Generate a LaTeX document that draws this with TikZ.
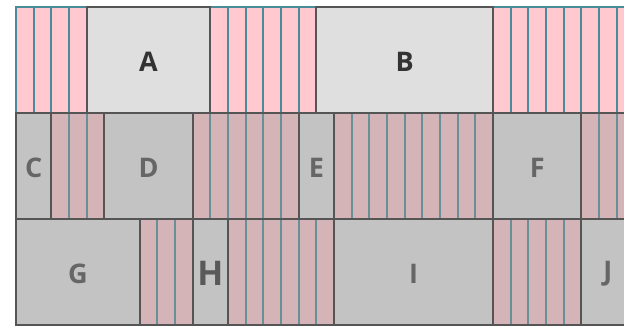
\documentclass[tikz,border=0pt]{standalone}
\usepackage{fontspec}
\setmainfont{Open Sans}
\usepackage{xcolor}
\definecolor{slotpink}{RGB}{255,201,207}
\definecolor{slotteal}{RGB}{72,140,155}
\definecolor{trackgray}{RGB}{150,150,150}
\definecolor{cardedge}{RGB}{85,85,85}
\definecolor{cardlight}{RGB}{223,223,223}
\definecolor{carddim}{RGB}{195,195,195}

\begin{document}
\begin{tikzpicture}[x=0.3105cm,y=-0.3105cm,
  slot/.style={fill=slotpink,draw=slotteal,line width=0.95pt},
  track/.style={fill=trackgray,fill opacity=0.4,draw=cardedge,line width=1pt},
  card/.style={draw=cardedge,line width=1pt},
  tag/.style={font=\bfseries\fontsize{13.5}{15}\selectfont}]
\useasboundingbox (-0.905,-0.396) rectangle (34.41,18);
\clip (-0.905,-0.396) rectangle (34.41,18);
% columns of the grid
\foreach \c in {0,...,35}
  \draw[slot] (\c,0) rectangle ++(1,18);
% rows that are already placed
\draw[track] (0,6) rectangle (37,12);
\draw[track] (0,12) rectangle (37,18);
% first row
\draw[card,fill=cardlight] (4,0) rectangle (11,6);
\node[tag,text=black!80] (a) at (7.5,3.1) {A};
\draw[card,fill=cardlight] (17,0) rectangle (27,6);
\node[tag,text=black!80] (b) at (22,3.1) {B};
% second row
\draw[card,fill=carddim] (0,6) rectangle (2,12);
\node[tag,text=black!60] (c) at (1,9.1) {C};
\draw[card,fill=carddim] (5,6) rectangle (10,12);
\node[tag,text=black!60] (d) at (7.5,9.1) {D};
\draw[card,fill=carddim] (16,6) rectangle (18,12);
\node[tag,text=black!60] (e) at (17,9.1) {E};
\draw[card,fill=carddim] (27,6) rectangle (32,12);
\node[tag,text=black!60] (f) at (29.5,9.1) {F};
% third row
\draw[card,fill=carddim] (0,12) rectangle (7,18);
\node[tag,text=black!60] (g) at (3.5,15.1) {G};
\draw[card,fill=carddim] (10,12) rectangle (12,18);
\node[tag,text=black!65,font=\bfseries\fontsize{17}{19}\selectfont] (h) at (11,15.1) {H};
\draw[card,fill=carddim] (18,12) rectangle (27,18);
\node[tag,text=black!60] (i) at (22.5,15.1) {I};
\draw[card,fill=carddim] (32,12) rectangle (35,18);
\node[tag,text=black!60] (j) at (33.5,15.1) {J};
\end{tikzpicture}
\end{document}
